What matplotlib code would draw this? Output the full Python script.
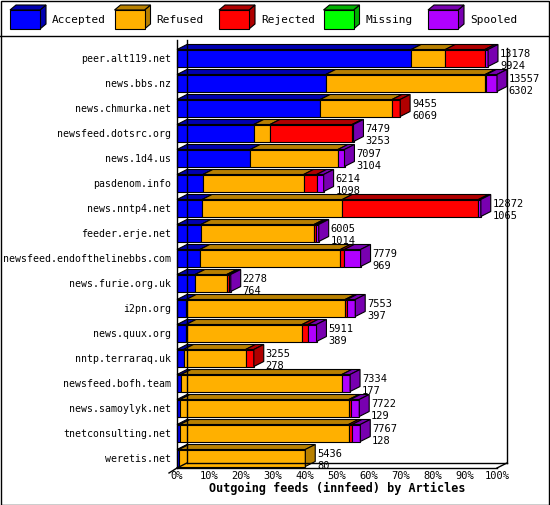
import numpy as np
import matplotlib.pyplot as plt
from matplotlib.patches import Polygon, Rectangle

plt.rcParams['font.family'] = ['DejaVu Sans Mono']

hosts = ['peer.alt119.net', 'news.bbs.nz', 'news.chmurka.net', 'newsfeed.dotsrc.org',
         'news.1d4.us', 'pasdenom.info', 'news.nntp4.net', 'feeder.erje.net',
         'newsfeed.endofthelinebbs.com', 'news.furie.org.uk', 'i2pn.org', 'news.quux.org',
         'nntp.terraraq.uk', 'newsfeed.bofh.team', 'news.samoylyk.net', 'tnetconsulting.net',
         'weretis.net']
totals = [13178, 13557, 9455, 7479, 7097, 6214, 12872, 6005, 7779, 2278, 7553, 5911, 3255, 7334, 7722, 7767, 5436]
accepted = [9924, 6302, 6069, 3253, 3104, 1098, 1065, 1014, 969, 764, 397, 389, 278, 177, 129, 128, 80]
rejected = [1680, 50, 345, 3480, 0, 550, 5770, 100, 170, 80, 80, 250, 350, 0, 70, 150, 0]
missing = [0] * 17
spooled = [130, 450, 0, 60, 280, 300, 100, 100, 690, 90, 350, 360, 0, 350, 370, 350, 0]
refused = [t - a - r - m - s for t, a, r, m, s in zip(totals, accepted, rejected, missing, spooled)]

names = ['Accepted', 'Refused', 'Rejected', 'Missing', 'Spooled']
front = ['#0000ff', '#ffb000', '#ff0000', '#00ff00', '#b000ff']
dark = ['#0000b0', '#b88000', '#b00000', '#00b000', '#7800b0']

W, H = 550, 505
fig = plt.figure(figsize=(W / 100, H / 100), dpi=100)
fig.patches.append(Rectangle((0.5 / W, 0.5 / H), 1 - 1.5 / W, 1 - 1.5 / H, transform=fig.transFigure,
                             fill=False, ec='black', lw=1))
fig.lines.append(plt.Line2D([0, 1], [1 - 36 / H, 1 - 36 / H], transform=fig.transFigure, color='black', lw=1))

# legend
for k, (n, fc, dc) in enumerate(zip(names, front, dark)):
    x0 = 10 + k * 104.5
    fx = lambda px: px / W
    fy = lambda py: 1 - py / H
    fig.patches.append(Polygon([(fx(x0 + 30), fy(10)), (fx(x0 + 36), fy(5)), (fx(x0 + 36), fy(24)), (fx(x0 + 30), fy(29))],
                               closed=True, transform=fig.transFigure, fc=dc, ec='black', lw=0.8))
    fig.patches.append(Polygon([(fx(x0), fy(10)), (fx(x0 + 6), fy(5)), (fx(x0 + 36), fy(5)), (fx(x0 + 30), fy(10))],
                               closed=True, transform=fig.transFigure, fc=dc, ec='black', lw=0.8))
    fig.patches.append(Rectangle((fx(x0), fy(29)), 30 / W, 19 / H, transform=fig.transFigure,
                                 fc=fc, ec='black', lw=0.8))
    fig.text(fx(x0 + 42), fy(20), n, fontsize=8, va='center', ha='left')

ax = fig.add_axes([177 / W, (H - 468) / H, 320 / W, 428 / H])
n = len(hosts)
ax.set_xlim(0, 100)
ax.set_ylim(16.4, -0.72)
for s in ax.spines.values():
    s.set_visible(False)

dx, dy, h = 3.1, 0.2, 0.68
mx = max(totals)

# back frame
ax.plot([dx, dx], [-0.72, 16.4 - dy], color='black', lw=1, clip_on=False)
ax.plot([100 + dx, 100 + dx], [-0.4, 16.4 - dy], color='black', lw=1, clip_on=False)
ax.plot([0, 100], [16.4, 16.4], color='black', lw=1, clip_on=False)
ax.plot([dx, 100 + dx], [16.4 - dy, 16.4 - dy], color='black', lw=1, clip_on=False)
ax.plot([0, dx], [16.4, 16.4 - dy], color='black', lw=1, clip_on=False)
ax.plot([100, 100 + dx], [16.4, 16.4 - dy], color='black', lw=1, clip_on=False)
ax.plot([0, 0], [-0.72, 16.4], color='black', lw=1, clip_on=False)
ax.plot([-2.5, 0], [16.6, 16.4], color='black', lw=1, clip_on=False)

for i in range(n):
    vals = [accepted[i], refused[i], rejected[i], missing[i], spooled[i]]
    yt, yb = i - h / 2, i + h / 2
    x = 0.0
    segs = []
    for v, fc, dc in zip(vals, front, dark):
        if v <= 0:
            continue
        w = v / mx * 100
        segs.append((x, x + w, fc, dc))
        x += w
    for x0, x1, fc, dc in segs:
        ax.add_patch(Polygon([(x0, yt), (x1, yt), (x1 + dx, yt - dy), (x0 + dx, yt - dy)],
                             closed=True, fc=dc, ec='black', lw=0.8, clip_on=False))
        ax.add_patch(Rectangle((x0, yt), x1 - x0, h, fc=fc, ec='black', lw=0.8, clip_on=False))
    x0, x1, fc, dc = segs[-1]
    ax.add_patch(Polygon([(x1, yt), (x1 + dx, yt - dy), (x1 + dx, yb - dy), (x1, yb)],
                         closed=True, fc=dc, ec='black', lw=0.8, clip_on=False))
    ax.text(x + dx + 0.6, i - 0.17, str(totals[i]), fontsize=7.5, va='center', ha='left')
    ax.text(x + dx + 0.6, i + 0.33, str(accepted[i]), fontsize=7.5, va='center', ha='left')

ax.set_yticks(range(n))
ax.set_yticklabels(hosts, fontsize=7.1)
ax.tick_params(axis='y', length=0, pad=4)
ax.set_xticks(np.arange(0, 101, 10))
ax.set_xticklabels([f'{t}%' for t in range(0, 101, 10)], fontsize=7.5)
ax.tick_params(axis='x', length=0, pad=2)
ax.set_xlabel('Outgoing feeds (innfeed) by Articles', fontsize=8.5, fontweight='bold', labelpad=1)

fig.savefig('out.png', dpi=100)
